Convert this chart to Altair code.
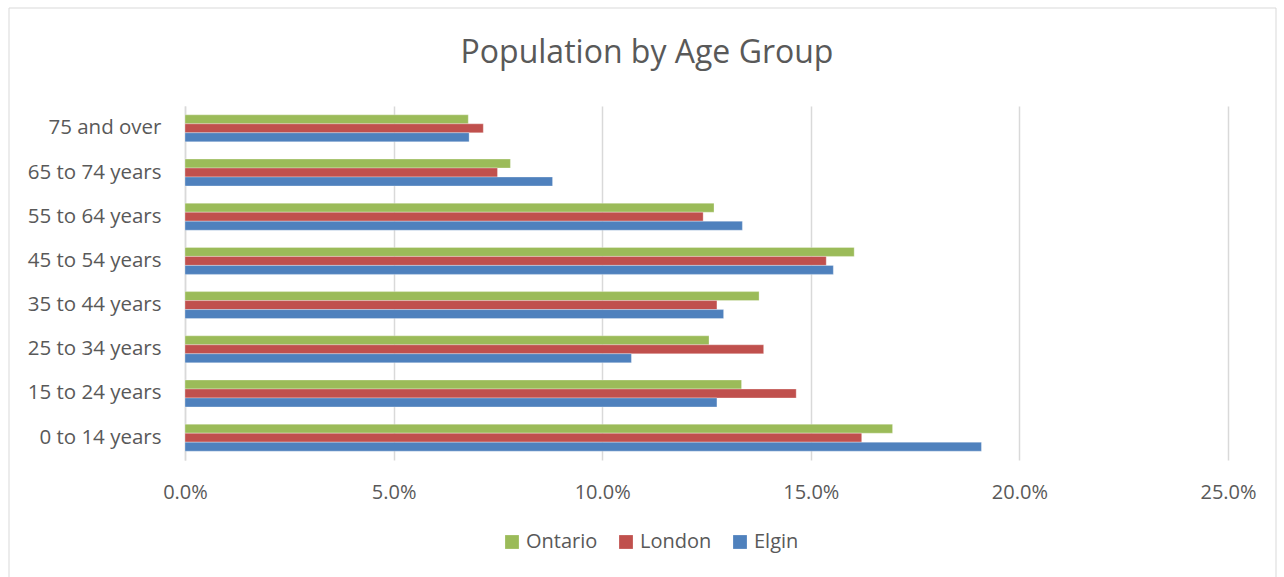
import altair as alt
import pandas as pd

groups = ["75 and over", "65 to 74 years", "55 to 64 years", "45 to 54 years",
          "35 to 44 years", "25 to 34 years", "15 to 24 years", "0 to 14 years"]
series = ["Ontario", "London", "Elgin"]
colors = ["#9BBB59", "#C0504D", "#4F81BD"]
ontario = [6.79, 7.80, 12.68, 16.04, 13.76, 12.56, 13.34, 16.96]
london = [7.15, 7.49, 12.42, 15.37, 12.75, 13.87, 14.65, 16.22]
elgin = [6.81, 8.81, 13.36, 15.54, 12.91, 10.70, 12.75, 19.09]
x_ticks = [0, 0.05, 0.10, 0.15, 0.20, 0.25]
title_text = "Population by Age Group"

rows = []
for name, vals in zip(series, [ontario, london, elgin]):
    for g, v in zip(groups, vals):
        rows.append({"group": g, "series": name, "value": v / 100})
df = pd.DataFrame(rows)

W, H = 1043, 354
FONT = "Open Sans"
GREY = "#595959"

bars = alt.Chart(df).mark_bar(stroke="white", strokeWidth=0.6, strokeOpacity=0.5).encode(
    y=alt.Y("group:N", sort=groups,
            scale=alt.Scale(paddingInner=0.39, paddingOuter=0.2),
            axis=alt.Axis(title=None, labelFontSize=20.5, labelColor=GREY, labelFont=FONT,
                          ticks=False, domain=True, domainColor="#d9d9d9", domainWidth=1.5,
                          labelPadding=24)),
    yOffset=alt.YOffset("series:N", sort=series),
    x=alt.X("value:Q", scale=alt.Scale(domain=[0, 0.25], nice=False),
            axis=alt.Axis(title=None, format=".1%", values=x_ticks, labelFontSize=20,
                          labelColor=GREY, labelFont=FONT, grid=True, gridColor="#d9d9d9",
                          gridWidth=1.5, domain=False, ticks=False, labelPadding=22,
                          labelFlush=False)),
    color=alt.Color("series:N", sort=series,
                    scale=alt.Scale(domain=series, range=colors),
                    legend=alt.Legend(title=None, orient="none", direction="horizontal",
                                      legendX=317, legendY=426, symbolType="square",
                                      symbolSize=190, symbolStrokeWidth=0,
                                      labelFontSize=20, labelColor=GREY, labelFont=FONT,
                                      columnPadding=18, labelOffset=4)),
)

border = alt.Chart(pd.DataFrame({"a": [0]})).mark_rect(
    fill=None, stroke="#d9d9d9", strokeWidth=1).encode(
    x=alt.value(9 - 185), x2=alt.value(1276 - 185),
    y=alt.value(8 - 106), y2=alt.value(600 - 106))

title = alt.Chart(pd.DataFrame({"t": [title_text]})).mark_text(
    font=FONT, fontSize=32, color=GREY, align="center", baseline="middle").encode(
    text="t:N", x=alt.value(647 - 185), y=alt.value(53 - 106))

chart = alt.layer(border, title, bars).properties(
    width=W, height=H,
    background="white",
    autosize=alt.AutoSizeParams(type="none"),
    padding={"left": 185, "top": 106, "right": 56, "bottom": 117},
).configure_view(strokeWidth=0, stroke="transparent")

chart.save("out.html", embed_options={"renderer": "svg", "actions": False})
